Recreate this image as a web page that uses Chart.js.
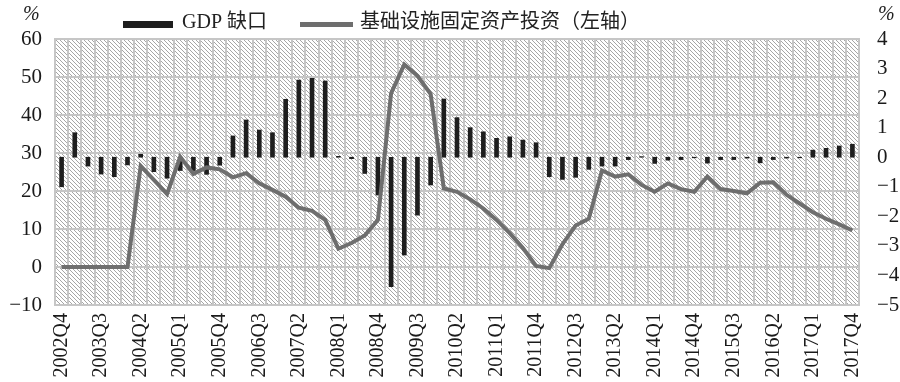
<!DOCTYPE html>
<html>
<head>
<meta charset="utf-8">
<script src="https://cdn.jsdelivr.net/npm/chart.js@4.4.0/dist/chart.umd.min.js"></script>
<style>
  html, body { margin: 0; padding: 0; background: #fff; }
</style>
</head>
<body>
<canvas id="chart" width="900" height="382"></canvas>
<script>
const quarters = [
  '2002Q4',
  '2003Q1','2003Q2','2003Q3','2003Q4',
  '2004Q1','2004Q2','2004Q3','2004Q4',
  '2005Q1','2005Q2','2005Q3','2005Q4',
  '2006Q1','2006Q2','2006Q3','2006Q4',
  '2007Q1','2007Q2','2007Q3','2007Q4',
  '2008Q1','2008Q2','2008Q3','2008Q4',
  '2009Q1','2009Q2','2009Q3','2009Q4',
  '2010Q1','2010Q2','2010Q3','2010Q4',
  '2011Q1','2011Q2','2011Q3','2011Q4',
  '2012Q1','2012Q2','2012Q3','2012Q4',
  '2013Q1','2013Q2','2013Q3','2013Q4',
  '2014Q1','2014Q2','2014Q3','2014Q4',
  '2015Q1','2015Q2','2015Q3','2015Q4',
  '2016Q1','2016Q2','2016Q3','2016Q4',
  '2017Q1','2017Q2','2017Q3','2017Q4'
];

// only every third quarter gets a label
const tickQuarters = ['2002Q4','2003Q3','2004Q2','2005Q1','2005Q4','2006Q3','2007Q2',
  '2008Q1','2008Q4','2009Q3','2010Q2','2011Q1','2011Q4','2012Q3','2013Q2','2014Q1',
  '2014Q4','2015Q3','2016Q2','2017Q1','2017Q4'];

// GDP gap, right axis (%)
const gdpGap = [
  -1.0,
  0.83, -0.3, -0.57, -0.66,
  -0.26, 0.1, -0.49, -0.71,
  -0.45, -0.45, -0.58, -0.27,
  0.72, 1.26, 0.92, 0.83,
  1.96, 2.61, 2.67, 2.58,
  0.03, -0.05, -0.55, -1.28,
  -4.38, -3.31, -1.96, -0.94,
  1.97, 1.34, 1.0, 0.86,
  0.64, 0.69, 0.58, 0.49,
  -0.66, -0.75, -0.68, -0.41,
  -0.3, -0.3, -0.08, 0.02,
  -0.21, -0.1, -0.08, -0.02,
  -0.2, -0.08, -0.08, -0.03,
  -0.19, -0.08, -0.03, -0.02,
  0.24, 0.3, 0.38, 0.44
];

// infrastructure fixed asset investment, left axis (%)
const infraInvest = [
  0,
  0, 0, 0, 0,
  0, 26.6, 22.9, 19.2,
  29.0, 24.5, 26.2, 25.7,
  23.6, 24.7, 22.0, 20.3,
  18.5, 15.6, 14.8, 12.4,
  4.8, 6.3, 8.3, 12.4,
  45.7, 53.3, 50.3, 45.5,
  20.7, 19.8, 17.8, 15.4,
  12.4, 8.9, 5.0, 0.3,
  -0.3, 6.0, 10.9, 12.7,
  25.4, 23.8, 24.4, 21.6,
  19.8, 22.0, 20.5, 19.8,
  23.8, 20.5, 20.0, 19.4,
  22.2, 22.3, 19.0, 16.7,
  14.4, 12.7, 11.2, 9.6
];

const font = '"Liberation Serif", "Noto Sans CJK SC", serif';
const gridColor = '#c6c6c6';
const lineColor = '#6e6e6e';
const barColor = '#1e1e1e';

let hatch = null;
function getHatch(ctx) {
  if (hatch) return hatch;
  const c = document.createElement('canvas');
  c.width = 4; c.height = 4;
  const g = c.getContext('2d');
  g.fillStyle = '#fff';
  g.fillRect(0, 0, 4, 4);
  g.strokeStyle = '#a6a6a6';
  g.lineWidth = 1;
  g.beginPath();
  g.moveTo(-1, -1); g.lineTo(5, 5);
  g.moveTo(-1, 3); g.lineTo(1, 5);
  g.moveTo(3, -1); g.lineTo(5, 1);
  g.stroke();
  hatch = ctx.createPattern(c, 'repeat');
  return hatch;
}

const decor = {
  id: 'decor',
  beforeDraw(chart) {
    const { ctx, chartArea: a } = chart;
    ctx.save();
    ctx.fillStyle = getHatch(ctx);
    ctx.fillRect(a.left, a.top, a.right - a.left, a.bottom - a.top);
    ctx.restore();
  },
  afterDraw(chart) {
    const ctx = chart.ctx;
    const ds = chart.data.datasets;
    ctx.save();
    ctx.textBaseline = 'middle';
    ctx.textAlign = 'left';
    ctx.font = '20px ' + font;
    // legend
    ctx.fillStyle = barColor;
    ctx.fillRect(123, 21, 50, 7);
    ctx.fillStyle = '#222';
    ctx.fillText(ds[1].label, 182, 23);
    ctx.fillStyle = lineColor;
    ctx.fillRect(300, 22, 53, 5);
    ctx.fillStyle = '#222';
    ctx.fillText(ds[0].label, 360, 23);
    // unit marks
    ctx.font = 'italic 20px ' + font;
    ctx.fillText('%', 23, 15);
    ctx.fillText('%', 878, 15);
    ctx.restore();
  }
};

new Chart(document.getElementById('chart'), {
  data: {
    labels: quarters,
    datasets: [
      {
        type: 'line',
        label: '基础设施固定资产投资（左轴）',
        data: infraInvest,
        yAxisID: 'y',
        borderColor: lineColor,
        borderWidth: 4,
        pointRadius: 0,
        tension: 0,
        order: 0
      },
      {
        type: 'bar',
        label: 'GDP 缺口',
        data: gdpGap,
        yAxisID: 'y1',
        backgroundColor: barColor,
        barThickness: 4,
        order: 1
      }
    ]
  },
  options: {
    responsive: false,
    animation: false,
    devicePixelRatio: 1,
    layout: { padding: { top: 39, left: 0, right: 0, bottom: 0 } },
    plugins: {
      legend: { display: false },
      tooltip: { enabled: false }
    },
    scales: {
      x: {
        offset: true,
        grid: { color: gridColor, lineWidth: 2, offset: true, drawTicks: false },
        border: { color: gridColor, width: 2 },
        ticks: {
          autoSkip: false,
          maxRotation: 90,
          minRotation: 90,
          padding: 8,
          color: '#1a1a1a',
          font: { family: font, size: 20 },
          callback: function(value, index) {
            const q = quarters[index];
            return tickQuarters.includes(q) ? q : '';
          }
        },
        afterFit: (s) => { s.height = 77; }
      },
      y: {
        position: 'left',
        min: -10,
        max: 60,
        grid: { color: gridColor, lineWidth: 2, drawTicks: false },
        border: { color: gridColor, width: 2 },
        ticks: {
          stepSize: 10,
          padding: 13,
          color: '#1a1a1a',
          font: { family: font, size: 21 },
          callback: (v) => String(v).replace('-', '\u2212')
        },
        afterFit: (s) => { s.width = 55; }
      },
      y1: {
        position: 'right',
        min: -5,
        max: 4,
        grid: { display: false, drawTicks: false },
        border: { color: gridColor, width: 2 },
        ticks: {
          stepSize: 1,
          padding: 18,
          color: '#1a1a1a',
          font: { family: font, size: 21 },
          callback: (v) => String(v).replace('-', '\u2212')
        },
        afterFit: (s) => { s.width = 41; }
      }
    }
  },
  plugins: [decor]
});
</script>
</body>
</html>
